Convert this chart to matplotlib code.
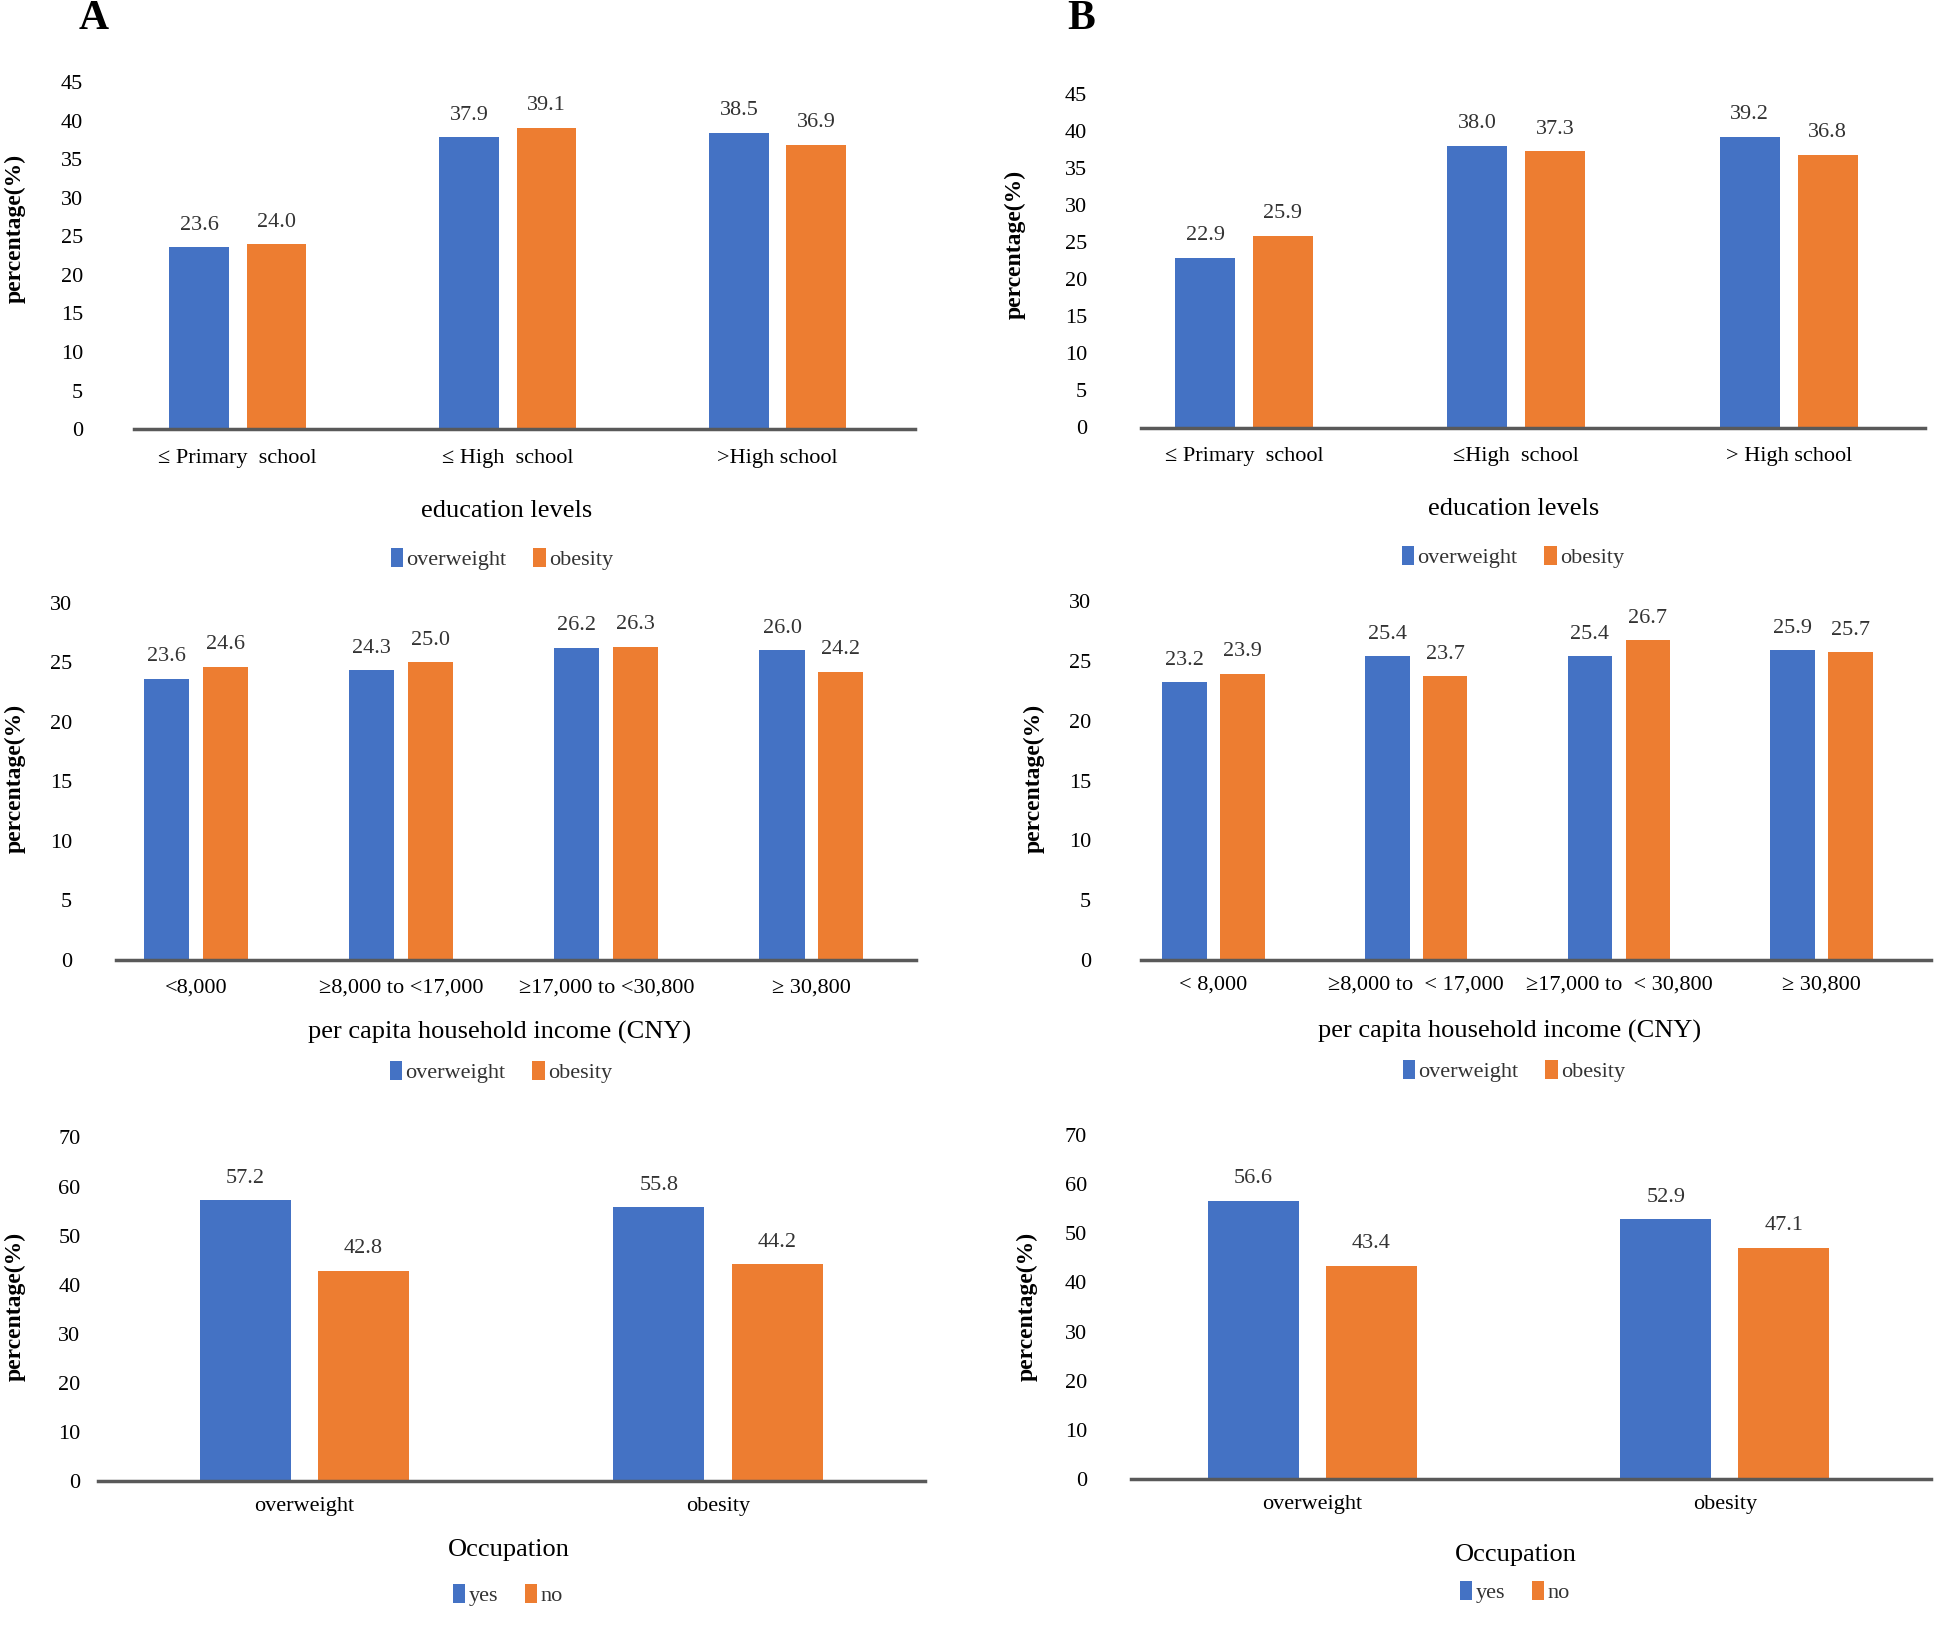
import matplotlib
matplotlib.use('Agg')
from matplotlib import pyplot as plt
import numpy as np

plt.rcParams['font.family'] = ['Liberation Serif', 'DejaVu Serif']

# --- data ---
edu_cats_A = ['≤ Primary  school', '≤ High  school', '>High school']
edu_cats_B = ['≤ Primary  school', '≤High  school', '> High school']
edu_over_A = [23.6, 37.9, 38.5]
edu_obes_A = [24.0, 39.1, 36.9]
edu_over_B = [22.9, 38.0, 39.2]
edu_obes_B = [25.9, 37.3, 36.8]

inc_cats_A = ['<8,000', '≥8,000 to <17,000', '≥17,000 to <30,800', '≥ 30,800']
inc_cats_B = ['< 8,000', '≥8,000 to  < 17,000', '≥17,000 to  < 30,800', '≥ 30,800']
inc_over_A = [23.6, 24.3, 26.2, 26.0]
inc_obes_A = [24.6, 25.0, 26.3, 24.2]
inc_over_B = [23.2, 25.4, 25.4, 25.9]
inc_obes_B = [23.9, 23.7, 26.7, 25.7]

occ_cats = ['overweight', 'obesity']
occ_yes_A = [57.2, 55.8]
occ_no_A = [42.8, 44.2]
occ_yes_B = [56.6, 52.9]
occ_no_B = [43.4, 47.1]

BLUE = '#4472C4'
ORANGE = '#ED7D31'
W, H = 1960, 1637

fig = plt.figure(figsize=(W / 100, H / 100), dpi=100)


def panel(px, cats, s1, s2, names, ymax, step, xlim, ytick_pad, xtick_pad,
          ylab_xy, xlab, xlab_xy, leg_xy):
    left, right, y0, ytop = px
    ax = fig.add_axes([left / W, 1 - y0 / H, (right - left) / W, (y0 - ytop) / H])
    x = np.arange(len(cats))
    w = 0.22
    b1 = ax.bar(x - 0.143, s1, w, color=BLUE, label=names[0])
    b2 = ax.bar(x + 0.143, s2, w, color=ORANGE, label=names[1])
    for b in (b1, b2):
        ax.bar_label(b, fmt='%.1f', padding=9, fontsize=16, color='#333333')
    ax.set_xlim(*xlim)
    ax.set_ylim(0, ymax)
    ax.set_yticks(np.arange(0, ymax + 1, step))
    ax.set_xticks(x)
    ax.set_xticklabels(cats, fontsize=16)
    ax.tick_params(axis='y', length=0, pad=ytick_pad * 0.72, labelsize=16)
    ax.tick_params(axis='x', length=0, pad=xtick_pad * 0.72)
    for s in ('top', 'right', 'left'):
        ax.spines[s].set_visible(False)
    ax.spines['bottom'].set_color('#595959')
    ax.spines['bottom'].set_linewidth(2.5)
    ax.set_facecolor('none')

    ax.set_ylabel('percentage(%)', fontsize=17, fontweight='bold')
    ax.yaxis.set_label_coords((ylab_xy[0] - left) / (right - left),
                              (y0 - ylab_xy[1]) / (y0 - ytop))
    ax.yaxis.label.set_va('center')
    ax.set_xlabel(xlab, fontsize=19)
    ax.xaxis.set_label_coords((xlab_xy[0] - left) / (right - left),
                              (y0 - xlab_xy[1]) / (y0 - ytop))
    ax.xaxis.label.set_va('center')

    ax.legend(loc='center', bbox_to_anchor=(leg_xy[0] / W, 1 - leg_xy[1] / H),
              bbox_transform=fig.transFigure, ncol=2, frameon=False,
              fontsize=16, handlelength=0.55, handleheight=0.9,
              handletextpad=0.15, columnspacing=1.2, labelcolor='#333333')
    return ax


# A: education
panel((134, 915, 429, 82.5), edu_cats_A, edu_over_A, edu_obes_A,
      ['overweight', 'obesity'], 45, 5, (-0.384, 2.509), 51, 20,
      (15, 228), 'education levels', (507, 511), (502, 559))
# B: education
panel((1141, 1925, 427.5, 94), edu_cats_B, edu_over_B, edu_obes_B,
      ['overweight', 'obesity'], 45, 5, (-0.378, 2.50), 54, 19,
      (1015, 244), 'education levels', (1514, 509), (1513, 557))
# A: income
panel((116, 916, 960, 602.5), inc_cats_A, inc_over_A, inc_obes_A,
      ['overweight', 'obesity'], 30, 5, (-0.39, 3.51), 44, 19,
      (15, 778), 'per capita household income (CNY)', (500, 1032), (501, 1072))
# B: income
panel((1141, 1931, 960, 601), inc_cats_B, inc_over_B, inc_obes_B,
      ['overweight', 'obesity'], 30, 5, (-0.358, 3.54), 50, 16,
      (1034, 778), 'per capita household income (CNY)', (1510, 1031), (1514, 1071))
# A: occupation
panel((97.5, 925, 1481, 1137.5), occ_cats, occ_yes_A, occ_no_A,
      ['yes', 'no'], 70, 10, (-0.50, 1.50), 17, 16,
      (15, 1306), 'Occupation', (509, 1550), (508, 1595))
# B: occupation
panel((1131, 1931, 1479, 1135), occ_cats, occ_yes_B, occ_no_B,
      ['yes', 'no'], 70, 10, (-0.44, 1.50), 44, 16,
      (1027, 1306), 'Occupation', (1516, 1555), (1515, 1592))

fig.text(94 / W, 1 - 19 / H, 'A', fontsize=30, fontweight='bold', ha='center', va='center')
fig.text(1081 / W, 1 - 19 / H, 'B', fontsize=30, fontweight='bold', ha='center', va='center')

fig.savefig('out.png', dpi=100)
